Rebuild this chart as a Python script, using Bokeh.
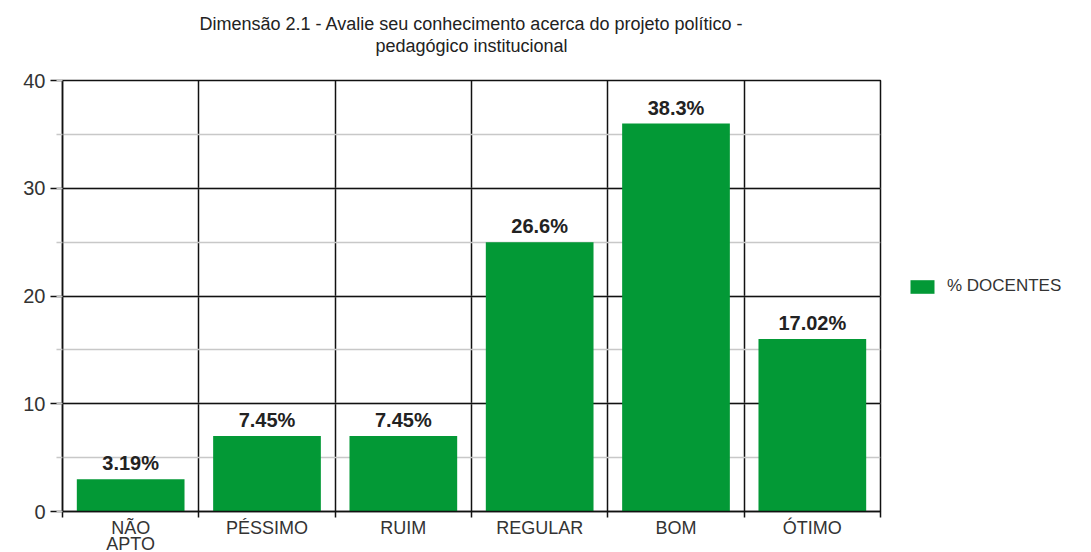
from bokeh.plotting import figure
from bokeh.models import (Range1d, FixedTicker, SingleIntervalTicker, ColumnDataSource,
                          LabelSet, Legend, LegendItem, Title)
from bokeh.core.properties import value
from bokeh.embed import file_html
from bokeh.resources import INLINE

categories = ["NÃO\nAPTO", "PÉSSIMO", "RUIM", "REGULAR", "BOM", "ÓTIMO"]
counts = [3, 7, 7, 25, 36, 16]
pct_labels = ["3.19%", "7.45%", "7.45%", "26.6%", "38.3%", "17.02%"]
series_name = "% DOCENTES"
title_lines = ["Dimensão 2.1 - Avalie seu conhecimento acerca do projeto político -",
               "pedagógico institucional"]

FONT = "Liberation Sans"
GREEN = "#039936"

n = len(categories)
xs = [i + 0.5 for i in range(n)]
src = ColumnDataSource(dict(x=xs, top=counts, pct=pct_labels))

p = figure(frame_width=818, frame_height=431, x_range=Range1d(0, n), y_range=Range1d(0, 40),
           output_backend="svg", toolbar_location=None, title=None,
           min_border_left=62, min_border_right=205, min_border_top=80, min_border_bottom=40)

bars = p.vbar(x="x", top="top", width=0.79, bottom=0, source=src, fill_color=GREEN, line_color=None)

p.outline_line_color = "#111111"
p.outline_line_width = 1.5

# y axis
yt = SingleIntervalTicker(interval=10, num_minor_ticks=2)
p.yaxis.ticker = yt
p.yaxis.axis_line_color = "#111111"
p.yaxis.axis_line_width = 1.5
p.yaxis.major_tick_line_color = "#111111"
p.yaxis.major_tick_line_width = 1.5
p.yaxis.major_tick_out = 12
p.yaxis.major_tick_in = 0
p.yaxis.minor_tick_line_color = "#c8c8c8"
p.yaxis.minor_tick_line_width = 1.5
p.yaxis.minor_tick_out = 6
p.yaxis.minor_tick_in = 0
p.yaxis.major_label_text_font = FONT
p.yaxis.major_label_text_font_size = "20px"
p.yaxis.major_label_text_color = "#333333"
p.yaxis.major_label_standoff = 5

# x axis: labels at centres, tick marks at category boundaries
boundaries = list(range(n + 1))
p.xaxis.ticker = FixedTicker(ticks=xs, minor_ticks=boundaries)
p.xaxis.major_label_overrides = {x: c for x, c in zip(xs, categories)}
p.xaxis.axis_line_color = "#111111"
p.xaxis.axis_line_width = 1.5
p.xaxis.major_tick_line_color = None
p.xaxis.major_tick_out = 0
p.xaxis.major_tick_in = 0
p.xaxis.minor_tick_line_color = "#111111"
p.xaxis.minor_tick_line_width = 1.5
p.xaxis.minor_tick_out = 6
p.xaxis.minor_tick_in = 0
p.xaxis.major_label_standoff = 0
p.xaxis.major_label_text_font = FONT
p.xaxis.major_label_text_font_size = "18px"
p.xaxis.major_label_text_color = "#333333"
p.xaxis.major_label_text_line_height = 0.8

p.xgrid.ticker = FixedTicker(ticks=boundaries)
p.xgrid.grid_line_color = "#111111"
p.xgrid.grid_line_width = 1.5
p.ygrid.ticker = yt
p.ygrid.grid_line_color = "#111111"
p.ygrid.grid_line_width = 1.5
p.ygrid.minor_grid_line_color = "#c8c8c8"
p.ygrid.minor_grid_line_width = 1.5

# value labels
p.add_layout(LabelSet(x="x", y="top", text="pct", source=src, y_offset=9,
                      text_align="center", text_baseline="alphabetic",
                      text_font=value(FONT), text_font_size=value("20px"),
                      text_font_style=value("bold"), text_color=value("#222222")))

# two-line title, each line centred (spacer title keeps it off the frame)
p.add_layout(Title(text=" ", align="center", standoff=0, text_font=FONT,
                   text_font_size="21px"), "above")
p.add_layout(Title(text=title_lines[1], align="center", offset=96, standoff=0,
                   text_font=FONT, text_font_size="18px", text_font_style="normal",
                   text_color="#222222"), "above")
p.add_layout(Title(text=title_lines[0], align="center", offset=96, standoff=0,
                   text_font=FONT, text_font_size="18px", text_font_style="normal",
                   text_color="#222222"), "above")

legend = Legend(items=[LegendItem(label=series_name, renderers=[bars])],
                location=(27, 215), border_line_color=None, background_fill_alpha=0,
                glyph_width=30, glyph_height=17, label_standoff=10, margin=0, padding=10,
                label_text_font=FONT, label_text_font_size="17px", label_text_color="#333333")
p.add_layout(legend, "right")

open("out.html", "w").write(file_html(p, INLINE))
